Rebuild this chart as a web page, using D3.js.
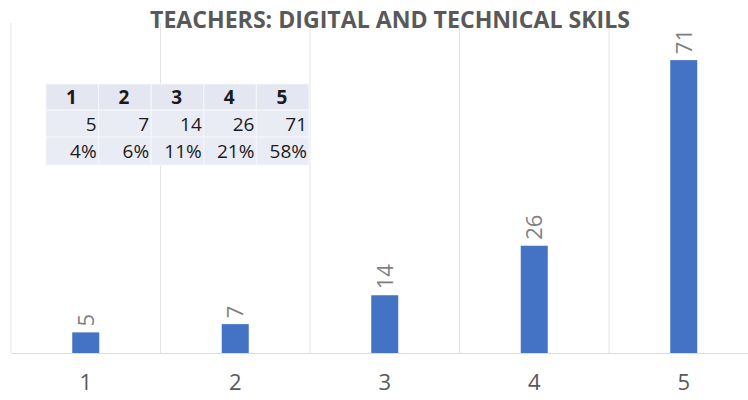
<!DOCTYPE html>
<meta charset="utf-8">
<script src="https://d3js.org/d3.v7.min.js"></script>
<style>
  body { margin: 0; background: #fff; }
</style>
<div id="my_dataviz"></div>
<script>

    // data
    var categories = ["1", "2", "3", "4", "5"];
    var counts = [5, 7, 14, 26, 71];
    var percents = ["4%", "6%", "11%", "21%", "58%"];
    var title = "TEACHERS: DIGITAL AND TECHNICAL SKILS";

    var width = 748, height = 400;
    var plot = {left: 11, right: 758.5, top: 23, bottom: 353};

    var svg = d3.select("#my_dataviz")
      .append("svg")
        .attr("width", width)
        .attr("height", height)
        .style("font-family", "'Open Sans', sans-serif");

    // X scale: one band per category
    var x = d3.scaleBand()
      .domain(categories)
      .range([plot.left, plot.right])
      .padding(0);

    // Y scale, Excel-like max of 80
    var y = d3.scaleLinear()
      .domain([0, 80])
      .range([plot.bottom, plot.top]);

    // vertical gridlines between categories
    var edges = categories.map(function(c) { return x(c); });
    svg.append("g")
      .selectAll("line")
      .data(edges)
      .enter()
      .append("line")
        .attr("x1", function(d) { return d; })
        .attr("x2", function(d) { return d; })
        .attr("y1", plot.top)
        .attr("y2", plot.bottom)
        .attr("stroke", "#e3e3e3")
        .attr("stroke-width", 1);

    // bottom axis
    var xAxis = svg.append("g")
      .attr("transform", "translate(0," + plot.bottom + ")")
      .call(d3.axisBottom(x).tickSize(0).tickPadding(21));
    xAxis.select(".domain").attr("stroke", "#dcdcdc");
    xAxis.selectAll("text")
      .attr("font-size", 22)
      .attr("font-family", "'Open Sans', sans-serif")
      .attr("fill", "#595959");

    // bars
    var barW = 27;
    svg.append("g")
      .selectAll("rect")
      .data(counts)
      .enter()
      .append("rect")
        .attr("x", function(d, i) { return x(categories[i]) + x.bandwidth() / 2 - barW / 2; })
        .attr("y", function(d) { return y(d); })
        .attr("width", barW)
        .attr("height", function(d) { return y(0) - y(d); })
        .attr("fill", "#4472c4");

    // rotated value labels
    svg.append("g")
      .selectAll("text")
      .data(counts)
      .enter()
      .append("text")
        .attr("transform", function(d, i) {
          var cx = x(categories[i]) + x.bandwidth() / 2 + 8;
          return "translate(" + cx + "," + (y(d) - 6) + ") rotate(-90)";
        })
        .attr("font-size", 22)
        .attr("fill", "#7f7f7f")
        .text(function(d) { return d; });

    // title
    svg.append("text")
      .attr("x", 390)
      .attr("y", 28)
      .attr("text-anchor", "middle")
      .attr("font-size", 24)
      .attr("font-weight", "bold")
      .attr("fill", "#595959")
      .attr("textLength", 480)
      .attr("lengthAdjust", "spacingAndGlyphs")
      .text(title);

    // data table
    var tbl = {left: 46, top: 84, colW: 52.6, rowH: [26, 27, 28]};
    var rows = [categories, counts.map(String), percents];
    var tg = svg.append("g");
    var rowY = [tbl.top, tbl.top + tbl.rowH[0], tbl.top + tbl.rowH[0] + tbl.rowH[1]];
    rows.forEach(function(row, r) {
      tg.selectAll(".cell" + r)
        .data(row)
        .enter()
        .append("rect")
          .attr("x", function(d, i) { return tbl.left + i * tbl.colW; })
          .attr("y", rowY[r])
          .attr("width", tbl.colW)
          .attr("height", tbl.rowH[r])
          .attr("fill", r === 0 ? "#e4e7f2" : "#eaecf5")
          .attr("stroke", "#f6f7fb")
          .attr("stroke-width", 1);
      tg.selectAll(".txt" + r)
        .data(row)
        .enter()
        .append("text")
          .attr("x", function(d, i) {
            return r === 0 ? tbl.left + i * tbl.colW + 20 : tbl.left + (i + 1) * tbl.colW - 2;
          })
          .attr("y", rowY[r] + tbl.rowH[r] / 2 + 7)
          .attr("text-anchor", r === 0 ? "start" : "end")
          .attr("font-size", 19)
          .attr("font-weight", r === 0 ? "bold" : "normal")
          .attr("fill", "#1a1a1a")
          .text(function(d) { return d; });
    });

</script>
